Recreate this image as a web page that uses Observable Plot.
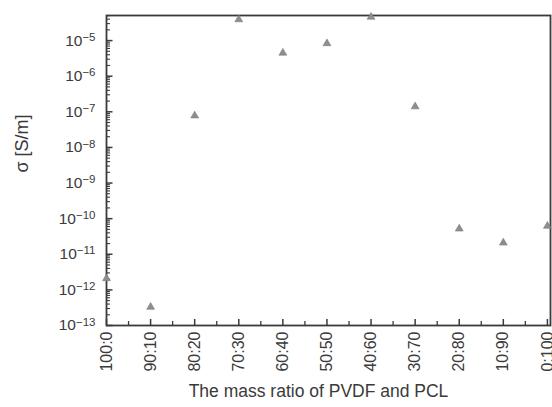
<!DOCTYPE html>
<html><head><meta charset="utf-8">
<script src="https://cdn.jsdelivr.net/npm/d3@7"></script>
<script src="https://cdn.jsdelivr.net/npm/@observablehq/plot@0.6"></script>
<style>body{margin:0;background:#fff;font-family:"Liberation Sans",Arial,sans-serif}</style>
</head><body><div id="chart"></div>
<script>
const ratios = ["100:0","90:10","80:20","70:30","60:40","50:50","40:60","30:70","20:80","10:90","0:100"];
const pclContent = [0,10,20,30,40,50,60,70,80,90,100];
const conductivity = [2.1e-12,3.3e-13,7.8e-8,3.9e-5,4.5e-6,8.3e-6,4.6e-5,1.4e-7,5.2e-11,2.1e-11,6.2e-11];
const yExponents = [-13,-12,-11,-10,-9,-8,-7,-6,-5];
const yTicks = yExponents.map(e => Math.pow(10, e));
const minorX = [5,15,25,35,45,55,65,75,85,95];
const yMin = 1e-13, yMax = 5.06e-5, xMax = 100.7;
const minorY = [];
for (const e of yExponents) for (let k = 2; k <= 9; k++) { const v = k * Math.pow(10, e); if (v < yMax) minorY.push(v); }

const data = pclContent.map((x, i) => ({x, y: conductivity[i], label: ratios[i]}));
const W = 552, H = 407, mL = 106, mR = 2, mT = 15, mB = 82;
const pw = W - mL - mR, ph = H - mT - mB;
const ink = "#3a3a3a";
// pixel lengths of inward ticks converted to scale units
const xLen = px => px * xMax / pw;
const yLen = px => yMin * Math.pow(10, px * Math.log10(yMax / yMin) / ph);

const chart = Plot.plot({
  width: W, height: H,
  marginLeft: mL, marginRight: mR, marginTop: mT, marginBottom: mB,
  style: {fontFamily: "'Liberation Sans', Arial, sans-serif", color: ink, background: "#fff"},
  x: {domain: [0, xMax], axis: null},
  y: {type: "log", domain: [yMin, yMax], axis: null},
  marks: [
    Plot.axisY({ticks: yTicks, tickSize: 0, tickPadding: 11, fontSize: 15.5, label: null,
      tickFormat: d => "10\u2212" + Math.abs(Math.round(Math.log10(d)))}),
    Plot.axisX({ticks: pclContent, tickSize: 0, tickPadding: 6, tickRotate: -90, fontSize: 16, label: null,
      tickFormat: d => ratios[pclContent.indexOf(d)]}),
    Plot.ruleY(yTicks, {y: d => d, x1: 0, x2: xLen(6.5), stroke: ink, strokeWidth: 1.5}),
    Plot.ruleY(minorY, {y: d => d, x1: 0, x2: xLen(4), stroke: ink, strokeWidth: 1.1}),
    Plot.ruleX(pclContent, {x: d => d, y1: yMin, y2: yLen(6), stroke: ink, strokeWidth: 1.5}),
    Plot.ruleX(minorX, {x: d => d, y1: yMin, y2: yLen(4), stroke: ink, strokeWidth: 1.3}),
    Plot.frame({stroke: ink, strokeWidth: 1.8}),
    Plot.dot(data, {x: "x", y: "y", symbol: "triangle", r: 2.9, fill: "#8e8e8e", stroke: "#7a7a7a", strokeWidth: 0.6}),
    Plot.text(["\u03C3 [S/m]"], {frameAnchor: "left", dx: -84, dy: 2, rotate: -90, fontSize: 18, fill: ink}),
    Plot.text(["The mass ratio of PVDF and PCL"], {frameAnchor: "bottom", dx: -10, dy: 71, fontSize: 17.5, fill: ink})
  ]
});
// render exponent as superscript
d3.select(chart).selectAll('g[aria-label="y-axis tick label"] text').each(function () {
  const t = this.textContent;
  if (!t.startsWith("10")) return;
  const exp = t.slice(2);
  const sel = d3.select(this);
  sel.text(null);
  sel.append("tspan").attr("font-size", "15.5px").text("10");
  sel.append("tspan").attr("dy", "-0.42em").attr("font-size", "11.5px").text(exp);
});
document.getElementById("chart").appendChild(chart);
</script></body></html>
